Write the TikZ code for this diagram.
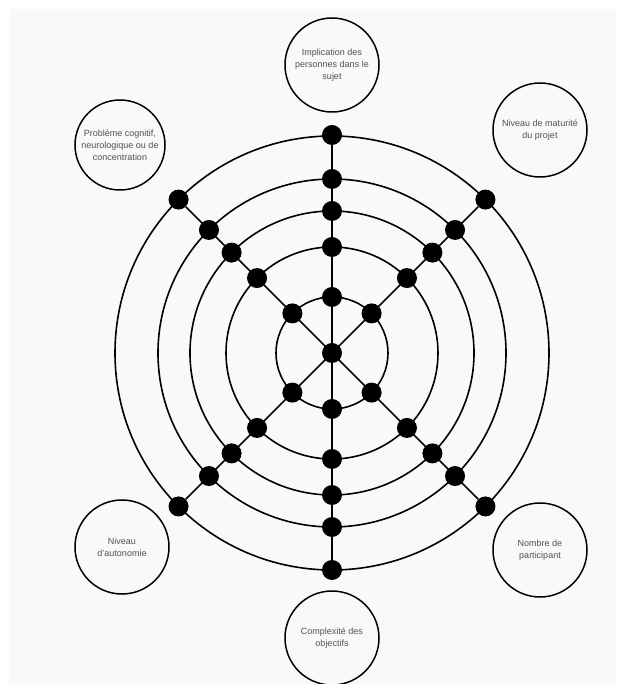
\documentclass[tikz,border=0pt]{standalone}
\usepackage{fontspec}
\setmainfont{Liberation Sans}
\definecolor{panelgray}{HTML}{F9F9F9}
\definecolor{labelgray}{HTML}{505050}
\begin{document}
\begin{tikzpicture}[x=1pt,y=1pt,
		critere/.style={circle,draw,line width=1.5pt,minimum size=94pt,inner sep=0pt,align=center,font=\fontsize{9}{12}\selectfont,text=labelgray},
		point/.style={circle,fill,minimum size=20pt,inner sep=0pt},
		trait/.style={line width=1.6pt}]
		\useasboundingbox (-332,-331) rectangle (284,353);
		\fill[white] (-332,-331) rectangle (284,353);
		\fill[panelgray] (-323,-331) rectangle (284,344);
		% criteres
		\node[critere] (implication) at (0,288) {Implication des\\personnes dans le\\sujet};
		\node[critere,minimum size=90pt] (cognitif) at (-212,208) {Problème cognitif,\\neurologique ou de\\concentration};
		\node[critere] (maturite) at (208,223) {Niveau de maturité\\du projet};
		\node[critere] (autonomie) at (-210,-194) {Niveau\\d'autonomie};
		\node[critere] (participant) at (208,-197) {Nombre de\\participant};
		\node[critere] (complexite) at (0,-285) {Complexité des\\objectifs};
		% anneaux
		\node[point] (O) at (0,0) {};
		\draw[trait] (O.center) circle (56pt);
		\draw[trait] (O.center) circle (106pt);
		\draw[trait] (O.center) circle (142pt);
		\draw[trait] (O.center) circle (174pt);
		\draw[trait] (O.center) circle (217pt);
		% haut
		\node[point] (a1) at (90:56) {};
		\node[point] (a2) at (90:106) {};
		\node[point] (a3) at (90:142) {};
		\node[point] (a4) at (90:174) {};
		\node[point] (a5) at (90:218) {};
		% haut droite
		\node[point] (b1) at (45:56) {};
		\node[point] (b2) at (45:106) {};
		\node[point] (b3) at (45:142) {};
		\node[point] (b4) at (45:174) {};
		\node[point] (b5) at (45:217) {};
		% bas droite
		\node[point] (c1) at (-45:56) {};
		\node[point] (c2) at (-45:106) {};
		\node[point] (c3) at (-45:142) {};
		\node[point] (c4) at (-45:174) {};
		\node[point] (c5) at (-45:217) {};
		% bas
		\node[point] (d1) at (-90:56) {};
		\node[point] (d2) at (-90:106) {};
		\node[point] (d3) at (-90:142) {};
		\node[point] (d4) at (-90:174) {};
		\node[point] (d5) at (-90:217) {};
		% bas gauche
		\node[point] (e1) at (-135:56) {};
		\node[point] (e2) at (-135:106) {};
		\node[point] (e3) at (-135:142) {};
		\node[point] (e4) at (-135:174) {};
		\node[point] (e5) at (-135:217) {};
		% haut gauche
		\node[point] (f1) at (135:56) {};
		\node[point] (f2) at (135:106) {};
		\node[point] (f3) at (135:142) {};
		\node[point] (f4) at (135:174) {};
		\node[point] (f5) at (135:217) {};
		% rayons
		\draw[trait] (a5) to (d5);
		\draw[trait] (b5) to (e5);
		\draw[trait] (f5) to (c5);
\end{tikzpicture}
\end{document}
